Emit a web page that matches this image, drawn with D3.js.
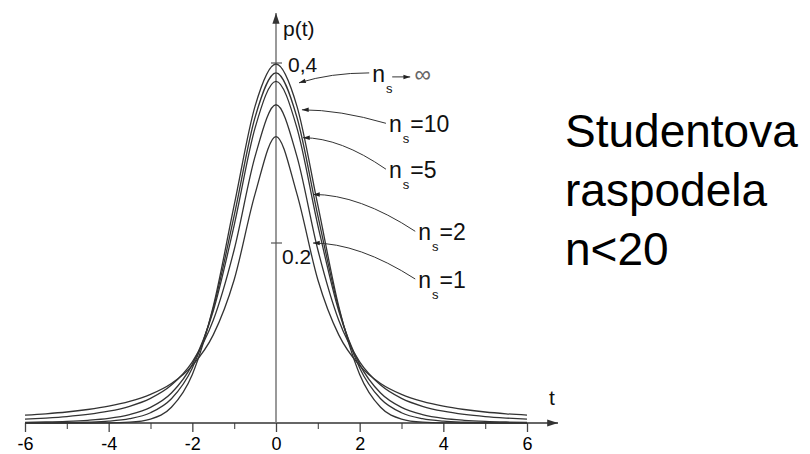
<!DOCTYPE html>
<html>
<head>
<meta charset="utf-8">
<script src="https://cdn.jsdelivr.net/npm/d3@7"></script>
<style>
  html, body { margin: 0; padding: 0; background: #fff; }
  svg { display: block; font-family: "Liberation Sans", Arial, sans-serif; }
</style>
</head>
<body>
<svg id="chart" width="810" height="454"></svg>
<script>
'use strict';

var tValues = [-6, -5.5, -5, -4.5, -4, -3.5, -3, -2.5, -2, -1.5, -1, -0.5, 0,
               0.5, 1, 1.5, 2, 2.5, 3, 3.5, 4, 4.5, 5, 5.5, 6];

// p(t) for each curve (n_s -> inf, 10, 5, 2, 1)
var pInf = [0, 0, 0, 0, 0.0001, 0.0009, 0.0044, 0.0175, 0.0540, 0.1295, 0.2420, 0.3521, 0.3989,
            0.3521, 0.2420, 0.1295, 0.0540, 0.0175, 0.0044, 0.0009, 0.0001, 0, 0, 0, 0];
var p10  = [0.0001, 0.0002, 0.0004, 0.0009, 0.0020, 0.0048, 0.0114, 0.0269, 0.0611, 0.1274, 0.2304, 0.3397, 0.3891,
            0.3397, 0.2304, 0.1274, 0.0611, 0.0269, 0.0114, 0.0048, 0.0020, 0.0009, 0.0004, 0.0002, 0.0001];
var p5   = [0.0007, 0.0011, 0.0018, 0.0030, 0.0051, 0.0093, 0.0173, 0.0333, 0.0651, 0.1245, 0.2197, 0.3279, 0.3796,
            0.3279, 0.2197, 0.1245, 0.0651, 0.0333, 0.0173, 0.0093, 0.0051, 0.0030, 0.0018, 0.0011, 0.0007];
var p2   = [0.0043, 0.0055, 0.0071, 0.0095, 0.0131, 0.0186, 0.0274, 0.0422, 0.0680, 0.1141, 0.1925, 0.2963, 0.3536,
            0.2963, 0.1925, 0.1141, 0.0680, 0.0422, 0.0274, 0.0186, 0.0131, 0.0095, 0.0071, 0.0055, 0.0043];
var p1   = [0.0087, 0.0102, 0.0122, 0.0150, 0.0187, 0.0240, 0.0318, 0.0439, 0.0637, 0.0979, 0.1592, 0.2546, 0.3183,
            0.2546, 0.1592, 0.0979, 0.0637, 0.0439, 0.0318, 0.0240, 0.0187, 0.0150, 0.0122, 0.0102, 0.0087];

var seriesLabels = ['\u221E', '=10', '=5', '=2', '=1'];

// leader arrows: where the arrow touches the curve and where the label sits, in (t, p)
var arrowTips = [[0.55, 0.378], [0.62, 0.348], [0.645, 0.317], [0.885, 0.254], [0.885, 0.200]];
var labelSpots = [[2.30, 0.379], [2.70, 0.323], [2.70, 0.272], [3.40, 0.203], [3.40, 0.150]];

var xTicks = [-6, -4, -2, 0, 2, 4, 6];
var xTickLabels = ['-6', '-4', '-2', '0', '2', '4', '6'];
var xMinorTicks = [-5, -3, -1, 1, 3, 5];
var yTicks = [0.4, 0.2];
var yTickLabels = ['0,4', '0.2'];

var titleLines = ['Studentova', 'raspodela', 'n<20'];

var series = [pInf, p10, p5, p2, p1];

var svg = d3.select('#chart');
svg.append('rect').attr('width', 810).attr('height', 454).attr('fill', '#fff');

var x = d3.scaleLinear().domain([-6, 6]).range([25, 527]),
    y = d3.scaleLinear().domain([0, 0.4]).range([423, 63]);

var defs = svg.append('defs');
defs.append('marker')
    .attr('id', 'tip')
    .attr('viewBox', '0 -4 9 8')
    .attr('refX', 9).attr('refY', 0)
    .attr('markerWidth', 8).attr('markerHeight', 6)
    .attr('markerUnits', 'userSpaceOnUse')
    .attr('orient', 'auto')
    .append('path').attr('d', 'M0,-3L9,0L0,3Z').attr('fill', '#222');
defs.append('marker')
    .attr('id', 'axisTip')
    .attr('viewBox', '0 -5 12 10')
    .attr('refX', 12).attr('refY', 0)
    .attr('markerWidth', 12).attr('markerHeight', 9)
    .attr('markerUnits', 'userSpaceOnUse')
    .attr('orient', 'auto')
    .append('path').attr('d', 'M0,-4L12,0L0,4Z').attr('fill', '#333');

// x axis: major and minor ticks
var xAxisG = svg.append('g')
    .attr('transform', 'translate(0,' + y(0) + ')')
    .call(d3.axisBottom(x)
        .tickValues(xTicks)
        .tickFormat(function(d, i) { return xTickLabels[i]; })
        .tickSize(9)
        .tickPadding(5));
xAxisG.select('.domain').remove();
xAxisG.selectAll('line').attr('stroke', '#444').attr('stroke-width', 1.3);
xAxisG.selectAll('text')
    .attr('font-size', 18)
    .attr('font-family', '"Liberation Sans", Arial, sans-serif')
    .attr('fill', '#000');

var xMinorG = svg.append('g')
    .attr('transform', 'translate(0,' + y(0) + ')')
    .call(d3.axisBottom(x).tickValues(xMinorTicks).tickFormat('').tickSize(6));
xMinorG.select('.domain').remove();
xMinorG.selectAll('line').attr('stroke', '#555').attr('stroke-width', 1.2);

svg.append('line')
    .attr('x1', x.range()[0]).attr('x2', x.range()[1] + 31)
    .attr('y1', y(0)).attr('y2', y(0))
    .attr('stroke', '#333').attr('stroke-width', 1.3)
    .attr('marker-end', 'url(#axisTip)');

// y axis
svg.append('line')
    .attr('x1', x(0)).attr('x2', x(0))
    .attr('y1', y(0)).attr('y2', 13)
    .attr('stroke', '#777').attr('stroke-width', 1.5)
    .attr('marker-end', 'url(#axisTip)');

svg.selectAll('.ytick')
    .data(yTicks)
    .enter().append('line')
    .attr('class', 'ytick')
    .attr('x1', x(0) - 5).attr('x2', x(0) + 6)
    .attr('y1', function(d) { return y(d); })
    .attr('y2', function(d) { return y(d); })
    .attr('stroke', '#555').attr('stroke-width', 1.2);

var yLabelShift = [9, 21];
svg.selectAll('.ylabel')
    .data(yTicks)
    .enter().append('text')
    .attr('class', 'ylabel')
    .attr('x', function(d, i) { return x(0) + (i === 0 ? 12 : 6); })
    .attr('y', function(d, i) { return y(d) + yLabelShift[i]; })
    .attr('font-size', 21)
    .attr('fill', '#111')
    .text(function(d, i) { return yTickLabels[i]; });

svg.append('text')
    .attr('x', x(0) + 7).attr('y', 36)
    .attr('font-size', 21).attr('fill', '#111')
    .text('p(t)');
svg.append('text')
    .attr('x', 549).attr('y', 405)
    .attr('font-size', 21).attr('fill', '#111')
    .text('t');

// the curves
var line = d3.line()
    .x(function(d, i) { return x(tValues[i]); })
    .y(function(d) { return y(d); })
    .curve(d3.curveMonotoneX);

svg.selectAll('.curve')
    .data(series)
    .enter().append('path')
    .attr('class', 'curve')
    .attr('d', line)
    .attr('fill', 'none')
    .attr('stroke', '#333')
    .attr('stroke-width', 1.3);

// leader lines with arrowheads
svg.selectAll('.leader')
    .data(arrowTips)
    .enter().append('path')
    .attr('class', 'leader')
    .attr('d', function(d, i) {
        var tx = x(d[0]), ty = y(d[1]),
            sx = x(labelSpots[i][0]) - 3, sy = y(labelSpots[i][1]) - 9,
            cx = tx + (sx - tx) * 0.45,
            cy = i === 0 ? sy : ty;
        return 'M' + sx + ',' + sy + 'Q' + cx + ',' + cy + ' ' + tx + ',' + ty;
    })
    .attr('fill', 'none')
    .attr('stroke', '#333')
    .attr('stroke-width', 1)
    .attr('marker-end', 'url(#tip)');

// n_s labels
var labels = svg.selectAll('.nlabel')
    .data(labelSpots)
    .enter().append('text')
    .attr('class', 'nlabel')
    .attr('x', function(d) { return x(d[0]); })
    .attr('y', function(d) { return y(d[1]); })
    .attr('font-size', 23)
    .attr('fill', '#111');
labels.append('tspan').text('n');
labels.append('tspan').attr('dy', 11).attr('font-size', 13).attr('dx', 1).text('s');
labels.append('tspan')
    .attr('dy', -11)
    .attr('dx', function(d, i) { return i === 0 ? 22 : 1; })
    .attr('fill', function(d, i) { return i === 0 ? '#666' : '#111'; })
    .text(function(d, i) { return seriesLabels[i]; });

// the small "tends to" arrow inside the first label
var infSpot = labelSpots[0];
svg.append('line')
    .attr('x1', x(infSpot[0]) + 20).attr('x2', x(infSpot[0]) + 38)
    .attr('y1', y(infSpot[1]) - 5).attr('y2', y(infSpot[1]) - 5)
    .attr('stroke', '#333').attr('stroke-width', 1)
    .attr('marker-end', 'url(#tip)');

// title on the right
svg.selectAll('.title')
    .data(titleLines)
    .enter().append('text')
    .attr('class', 'title')
    .attr('x', 565)
    .attr('y', function(d, i) { return 147 + i * 59; })
    .attr('font-size', 46)
    .attr('fill', '#000')
    .text(function(d) { return d; });
</script>
</body>
</html>
